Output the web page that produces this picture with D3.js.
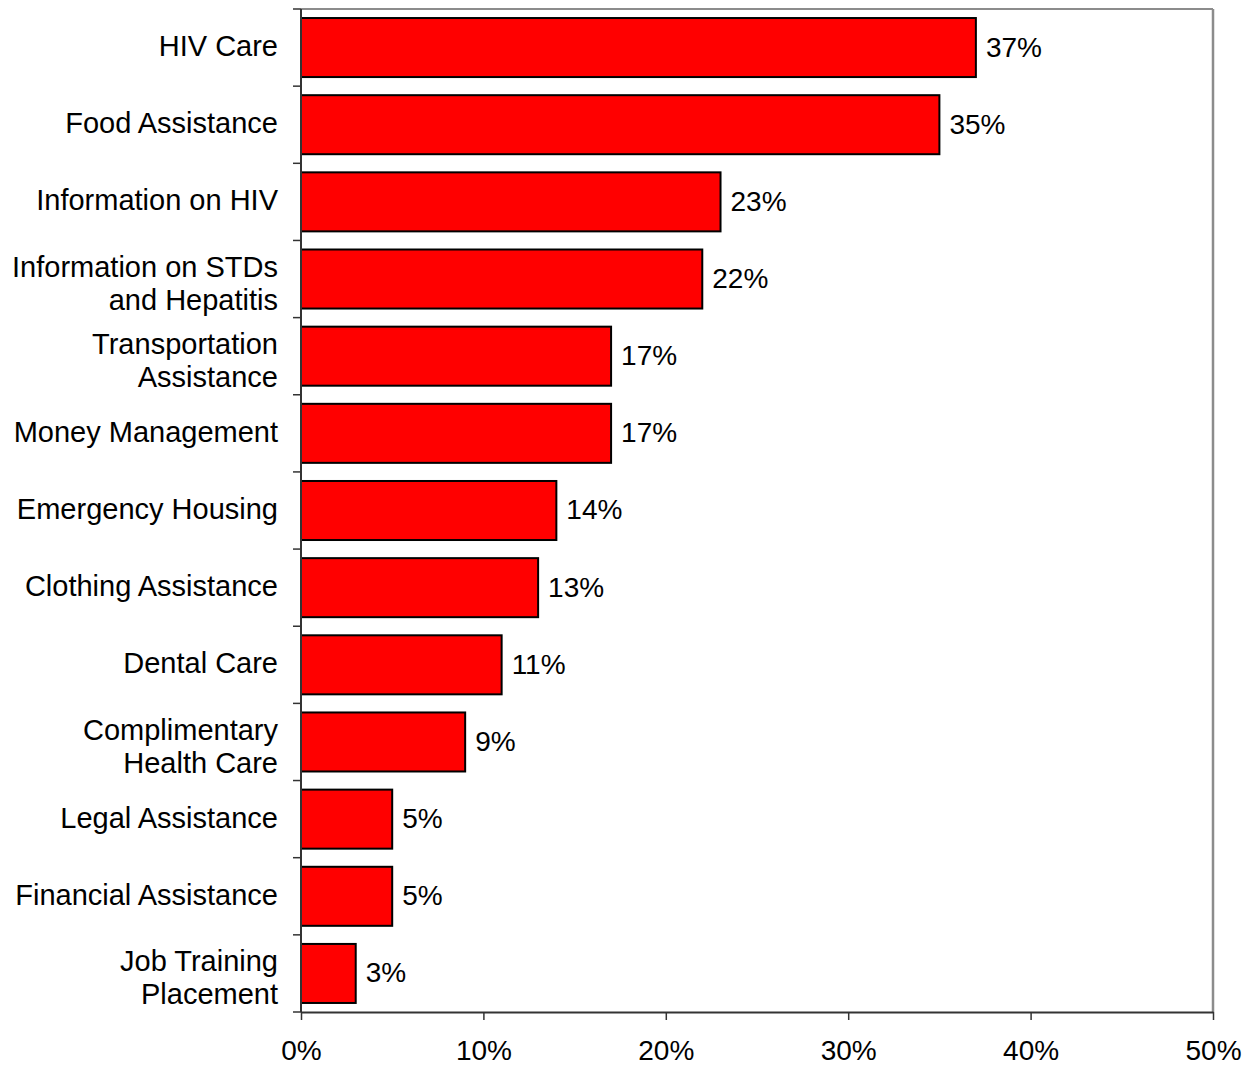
<!DOCTYPE html>
<html>
<head>
<meta charset="utf-8">
<script src="https://cdn.jsdelivr.net/npm/d3@7"></script>
<style>
  body { margin: 0; background: #fff; }
  svg text { font-family: "Liberation Sans", Arial, sans-serif; fill: #000; }
</style>
</head>
<body>
<div id="chart"></div>
<script>
// services needed (share of respondents)
const categories = [
  ["HIV Care"],
  ["Food Assistance"],
  ["Information on HIV"],
  ["Information on STDs", "and Hepatitis"],
  ["Transportation", "Assistance"],
  ["Money Management"],
  ["Emergency Housing"],
  ["Clothing Assistance"],
  ["Dental Care"],
  ["Complimentary", "Health Care"],
  ["Legal Assistance"],
  ["Financial Assistance"],
  ["Job Training", "Placement"]
];
const values = [37, 35, 23, 22, 17, 17, 14, 13, 11, 9, 5, 5, 3];
const xTicks = [0, 10, 20, 30, 40, 50];

const width = 1258, height = 1066;
const margin = { top: 9, right: 45, bottom: 54, left: 301 };
const innerW = width - margin.left - margin.right;
const innerH = height - margin.top - margin.bottom;

const svg = d3.select("#chart").append("svg")
  .attr("width", width)
  .attr("height", height);

const g = svg.append("g")
  .attr("transform", `translate(${margin.left},${margin.top})`);

const x = d3.scaleLinear().domain([0, 50]).range([0, innerW]);
const y = d3.scaleBand()
  .domain(d3.range(categories.length))
  .range([0, innerH])
  .paddingInner(0.235)
  .paddingOuter(0.117);

// plot frame (gray)
g.append("line")
  .attr("x1", 0).attr("x2", innerW).attr("y1", 0).attr("y2", 0)
  .attr("stroke", "#8c8c8c").attr("stroke-width", 2);
g.append("line")
  .attr("x1", innerW).attr("x2", innerW).attr("y1", 0).attr("y2", innerH)
  .attr("stroke", "#8c8c8c").attr("stroke-width", 2.5);

// bars
g.selectAll("rect.bar")
  .data(values)
  .join("rect")
  .attr("class", "bar")
  .attr("x", 0)
  .attr("y", (d, i) => y(i))
  .attr("width", d => x(d))
  .attr("height", y.bandwidth())
  .attr("fill", "#ff0000")
  .attr("stroke", "#000")
  .attr("stroke-width", 2);

// value labels
g.selectAll("text.val")
  .data(values)
  .join("text")
  .attr("class", "val")
  .attr("x", d => x(d) + 10)
  .attr("y", (d, i) => y(i) + y.bandwidth() / 2)
  .attr("dy", "0.32em")
  .style("font-size", "28px")
  .text(d => d + "%");

// left axis with ticks between categories
const band = innerH / categories.length;
const yAxis = g.append("g");
yAxis.append("line")
  .attr("x1", 0).attr("x2", 0)
  .attr("y1", 0).attr("y2", innerH)
  .attr("stroke", "#333").attr("stroke-width", 2);
yAxis.selectAll("line.tick")
  .data(d3.range(categories.length + 1))
  .join("line")
  .attr("class", "tick")
  .attr("x1", -8).attr("x2", 0)
  .attr("y1", i => i * band).attr("y2", i => i * band)
  .attr("stroke", "#333").attr("stroke-width", 1.5);

// category labels
const lineH = 33;
yAxis.selectAll("text.cat")
  .data(categories)
  .join("text")
  .attr("class", "cat")
  .attr("text-anchor", "end")
  .style("font-size", "29px")
  .attr("transform", (d, i) =>
    `translate(-23,${y(i) + y.bandwidth() / 2 + (d.length > 1 ? 4 : -2)})`)
  .each(function (lines) {
    const t = d3.select(this);
    lines.forEach((l, k) => {
      t.append("tspan")
        .attr("x", 0)
        .attr("y", (k - (lines.length - 1) / 2) * lineH)
        .attr("dy", "0.36em")
        .text(l);
    });
  });

// bottom axis
const xAxis = g.append("g")
  .attr("transform", `translate(0,${innerH})`)
  .call(d3.axisBottom(x).tickValues(xTicks).tickSize(8).tickSizeOuter(0)
    .tickFormat(d => d + "%"));
xAxis.select(".domain").attr("stroke", "#333").attr("stroke-width", 2);
xAxis.selectAll(".tick line").attr("stroke", "#333").attr("stroke-width", 1.5);
xAxis.selectAll(".tick text")
  .attr("y", 48)
  .attr("dy", 0)
  .style("font-size", "28px")
  .style("font-family", "Liberation Sans, Arial, sans-serif")
  .attr("fill", "#000");
</script>
</body>
</html>
